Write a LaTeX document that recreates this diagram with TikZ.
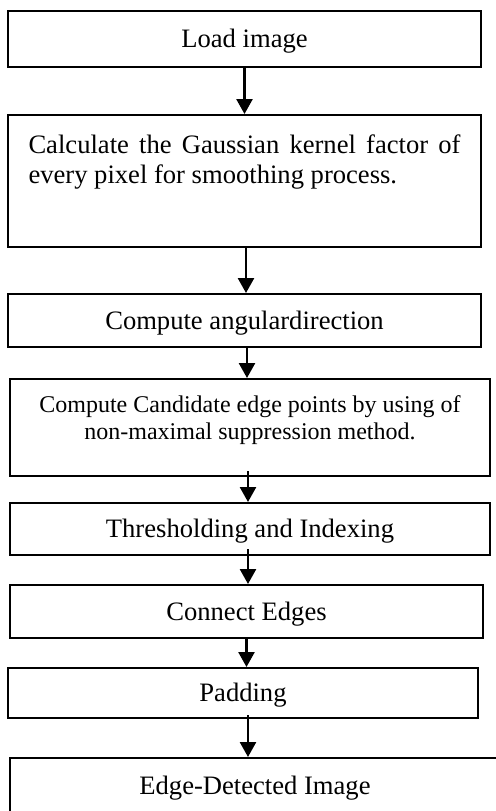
\documentclass[tikz,border=0pt]{standalone}
\usepackage{fontspec}
\setmainfont{Liberation Serif}
\usetikzlibrary{arrows.meta,positioning,calc}
\tikzset{
  stepbox/.style={draw=black,line width=1pt,inner sep=0pt,
    text height=8.8pt,text depth=0pt,font=\fontsize{13.3}{15}\selectfont},
  steptext/.style={inner sep=0pt,anchor=north},
  flowarrow/.style={-{Triangle[length=7.5pt,width=8pt]},line width=1.25pt}
}

\begin{document}
\begin{tikzpicture}[x=0.5pt,y=-0.5pt]
  \useasboundingbox (0,0) rectangle (496,811);
  % the steps, top to bottom
  \node (load) [stepbox,minimum width=236.5pt,minimum height=28pt] at (244.5,39) {Load image};
  \node (gauss) [stepbox,minimum width=236.5pt,minimum height=66pt] at (244.5,181) {};
  \node (gausstext) [steptext,text width=216pt,align=justify,font=\fontsize{13.3}{15}\selectfont]
    at ([yshift=-10.2pt]gauss.north)
    {Calculate the Gaussian kernel factor of every pixel for smoothing process.};
  \node (angle) [stepbox,minimum width=236.5pt,minimum height=26.5pt] at (244.5,320.5) {Compute angulardirection};
  \node (nms) [stepbox,minimum width=240pt,minimum height=48.5pt] at (250,427.5) {};
  \node (nmstext) [steptext,align=center,font=\fontsize{12}{13.7}\selectfont]
    at ([yshift=-8.6pt]nms.north)
    {Compute Candidate edge points by using of\\non-maximal suppression method.};
  \node (thresh) [stepbox,minimum width=240pt,minimum height=26pt] at (250,529) {Thresholding and Indexing};
  \node (connect) [stepbox,minimum width=236.5pt,minimum height=26.5pt] at (246.5,611.5) {Connect Edges};
  \node (pad) [stepbox,minimum width=235pt,minimum height=25pt] at (243,693) {Padding};
  \node (result) [stepbox,minimum width=245pt,minimum height=28pt] at (255,786) {Edge-Detected Image};

  % arrows between the steps
  \draw[flowarrow] (load.south) -- (load.south |- gauss.north);
  \draw[flowarrow] ([xshift=0.75pt]gauss.south) -- ([xshift=0.75pt]gauss.south |- angle.north);
  \draw[flowarrow] ([xshift=1.25pt]angle.south) -- ([xshift=1.25pt]angle.south |- nms.north);
  \draw[flowarrow] ([xshift=-1pt,yshift=3pt]nms.south) -- ([xshift=-1pt]nms.south |- thresh.north);
  \draw[flowarrow] ([xshift=-1pt,yshift=3.5pt]thresh.south) -- ([xshift=-1pt]thresh.south |- connect.north);
  \draw[flowarrow] (connect.south) -- (connect.south |- pad.north);
  \draw[flowarrow] ([xshift=2.5pt,yshift=2pt]pad.south) -- ([xshift=2.5pt]pad.south |- result.north);
\end{tikzpicture}
\end{document}
